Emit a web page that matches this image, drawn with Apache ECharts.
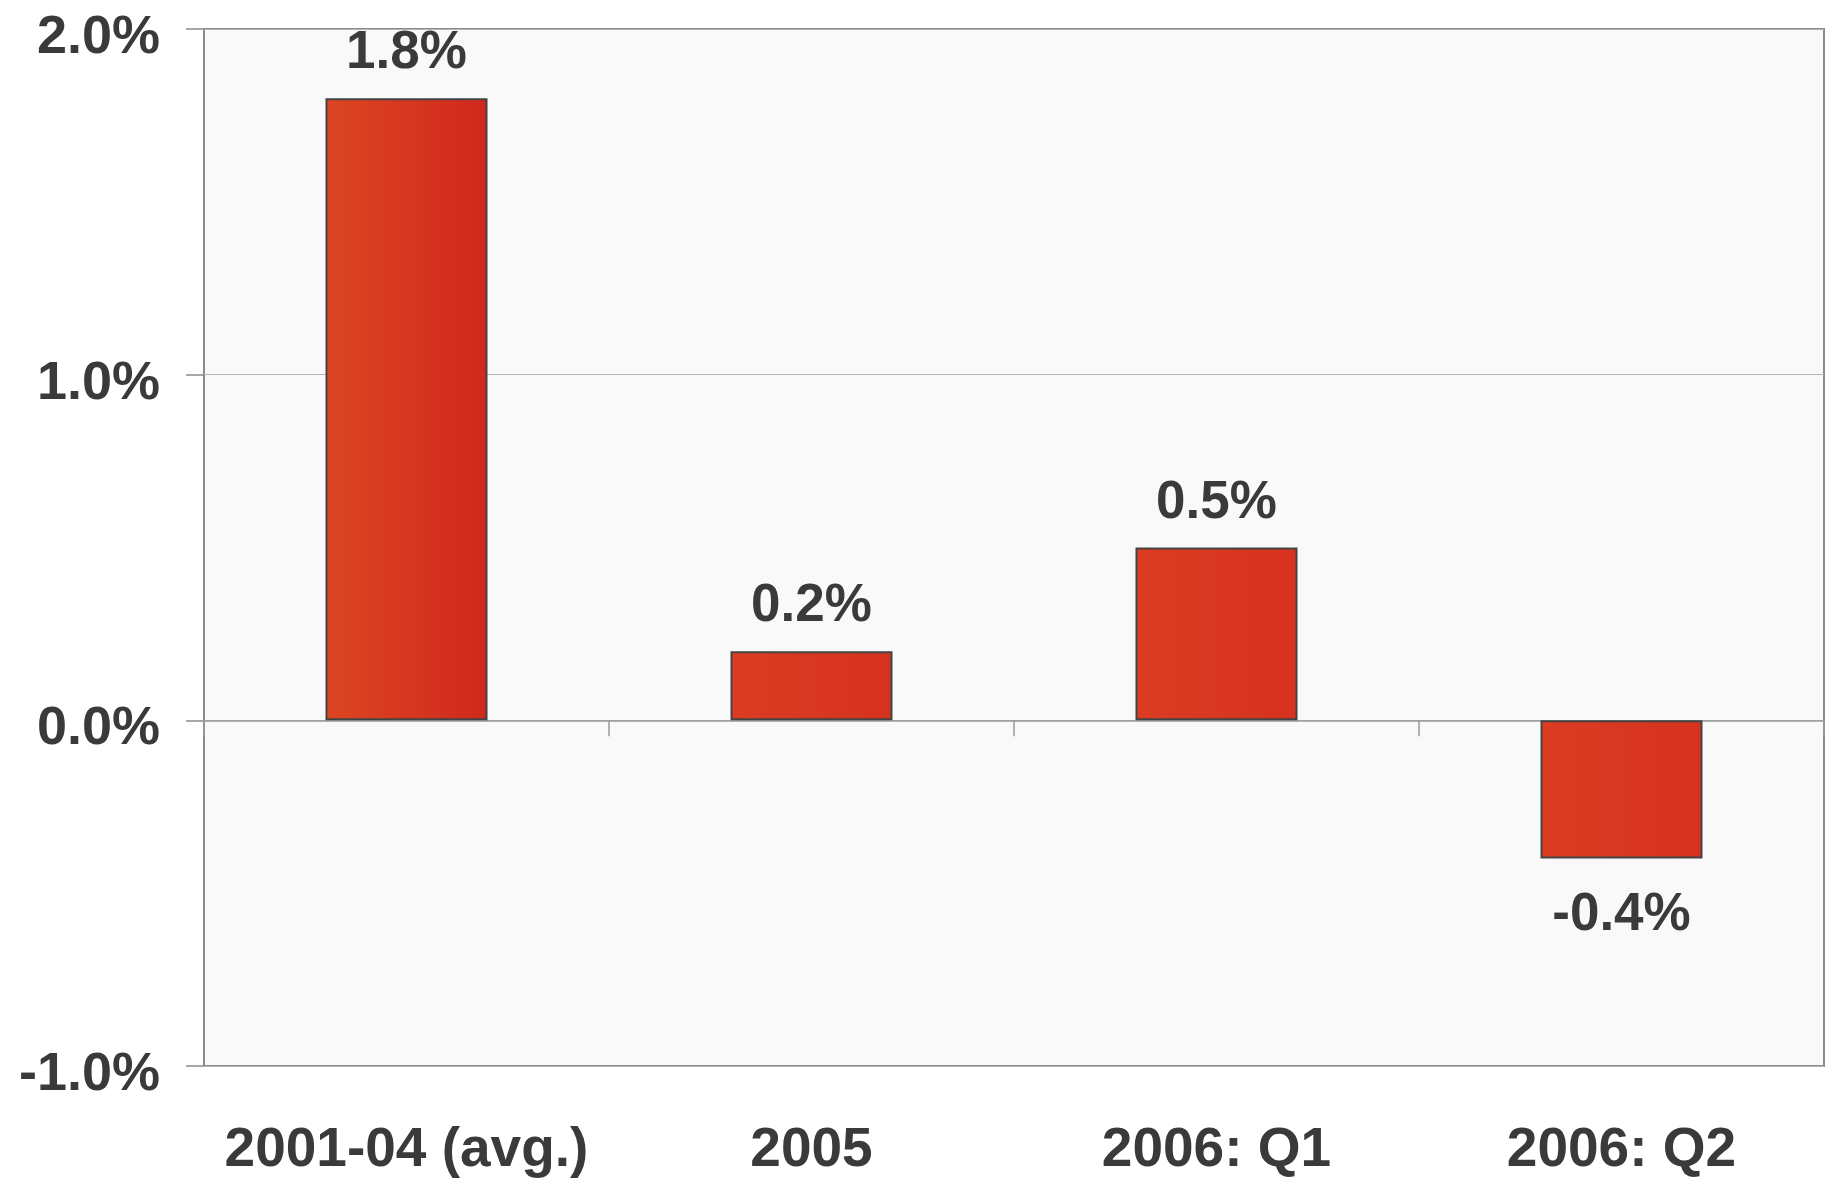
<!DOCTYPE html>
<html>
<head>
<meta charset="utf-8">
<script src="https://cdn.jsdelivr.net/npm/echarts@6/dist/echarts.min.js"></script>
<style>
  html, body { margin: 0; padding: 0; background: #fff; }
  #chart { width: 1831px; height: 1179px; }
</style>
</head>
<body>
<div id="chart"></div>
<script>
// 数据
const categories = ['2001-04 (avg.)', '2005', '2006: Q1', '2006: Q2'];
const values = [1.8, 0.2, 0.5, -0.4];
const yMin = -1;
const yMax = 2;
const yStep = 1;

const textColor = '#3a3a3a';
const fontFamily = '"Liberation Sans", Arial, Helvetica, sans-serif';

const chart = echarts.init(document.getElementById('chart'));

const barData = values.map((v, i) => ({
  value: v,
  itemStyle: {
    color: {
      type: 'linear', x: 0, y: 0, x2: 1, y2: 0,
      colorStops: i === 0
        ? [{ offset: 0, color: '#dc4621' }, { offset: 1, color: '#d1281d' }]
        : [{ offset: 0, color: '#dc3c22' }, { offset: 1, color: '#d6321f' }]
    }
  },
  label: v < 0 ? { position: 'bottom', distance: 30 } : { position: 'top' }
}));

chart.setOption({
  backgroundColor: '#ffffff',
  animation: false,
  grid: {
    left: 204,
    right: 7,
    top: 29,
    bottom: 113,
    show: true,
    backgroundColor: '#f9f9fa',
    borderColor: '#8a8a8a',
    borderWidth: 2
  },
  xAxis: [
    {
      type: 'category',
      data: categories,
      position: 'bottom',
      axisLine: { show: false, onZero: false },
      axisTick: { show: false },
      axisLabel: {
        interval: 0,
        margin: 57,
        color: textColor,
        fontSize: 55,
        fontWeight: 'bold',
        fontFamily: fontFamily
      }
    },
    {
      type: 'category',
      data: categories,
      position: 'top',
      axisLine: { show: true, onZero: true, lineStyle: { color: '#9a9a9a', width: 1.5 } },
      axisTick: { show: true, inside: true, length: 16, lineStyle: { color: '#9a9a9a', width: 1.5 } },
      axisLabel: { show: false }
    }
  ],
  yAxis: {
    type: 'value',
    min: yMin,
    max: yMax,
    interval: yStep,
    axisLine: { show: false },
    axisTick: { show: true, length: 18, lineStyle: { color: '#8a8a8a', width: 1.5 } },
    splitLine: { show: true, lineStyle: { color: '#b4b4b4', width: 1 } },
    axisLabel: {
      margin: 44,
      formatter: v => '{t|' + v.toFixed(1) + '%}',
      rich: {
        t: {
          padding: [18, 0, 0, 0],
          color: textColor,
          fontSize: 54,
          fontWeight: 'bold',
          fontFamily: fontFamily
        }
      }
    }
  },
  series: [
    {
      type: 'bar',
      xAxisIndex: 0,
      data: barData,
      barWidth: '40%',
      itemStyle: { borderColor: '#444444', borderWidth: 2 },
      label: {
        show: true,
        distance: 18,
        color: textColor,
        fontSize: 53,
        fontWeight: 'bold',
        fontFamily: fontFamily,
        formatter: p => p.value.toFixed(1) + '%'
      }
    }
  ]
});
</script>
</body>
</html>
